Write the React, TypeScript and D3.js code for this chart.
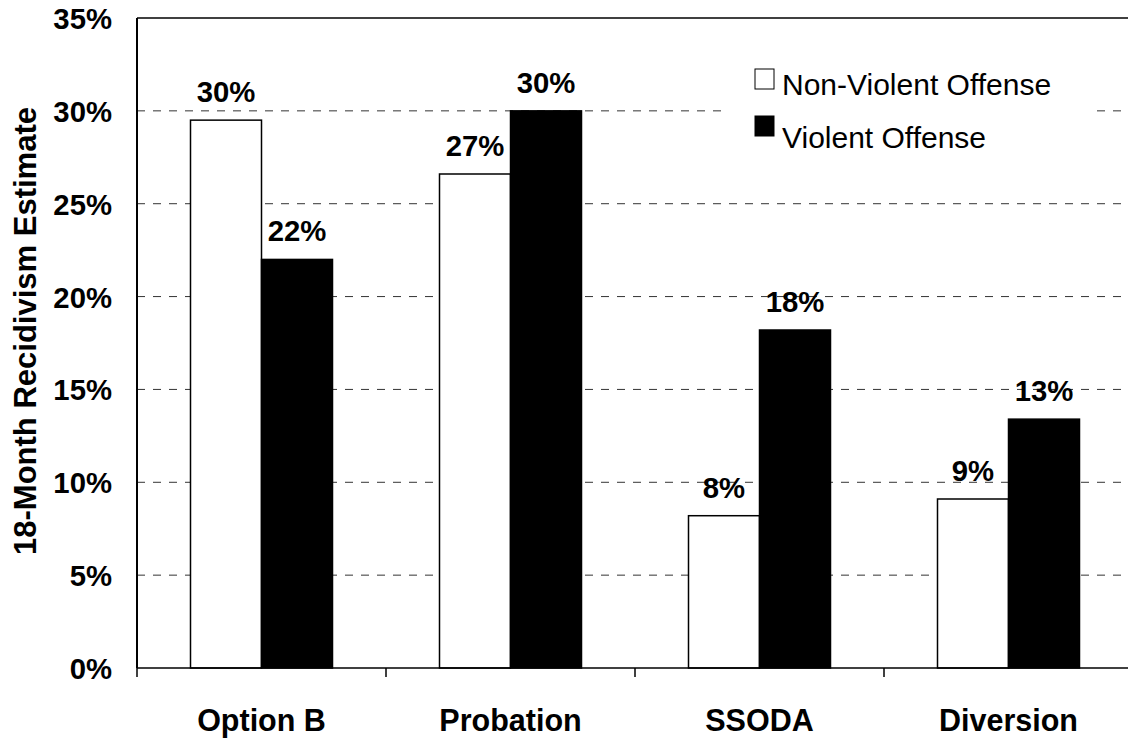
import React from "react";
import * as d3 from "d3";

// Recidivism estimates by disposition and offense type (percent)
const categories = ["Option B", "Probation", "SSODA", "Diversion"];
const seriesNames = ["Non-Violent Offense", "Violent Offense"];
const nonViolent = [29.5, 26.6, 8.2, 9.1];
const violent = [22.0, 30.0, 18.2, 13.4];
const valueLabels = [
  ["30%", "27%", "8%", "9%"],
  ["22%", "30%", "18%", "13%"],
];
const yTicks = [0, 5, 10, 15, 20, 25, 30, 35];
const yTitle = "18-Month Recidivism Estimate";

const W = 1128;
const H = 738;
const plot = { left: 137, top: 18, right: 1133, bottom: 668 };
const FONT = "'Liberation Sans', Arial, Helvetica, sans-serif";
const FS = 29.3;

export default function App() {
  const x = d3
    .scaleBand<string>()
    .domain(categories)
    .range([plot.left, plot.right])
    .paddingInner(0)
    .paddingOuter(0);
  const y = d3.scaleLinear().domain([0, 35]).range([plot.bottom, plot.top]);
  const barW = 71;
  const series = [nonViolent, violent];
  const fills = ["#ffffff", "#000000"];

  return (
    <div style={{ position: "fixed", left: 0, top: 0, background: "#fff" }}>
      <svg width={W} height={H} style={{ display: "block" }} fontFamily={FONT}>
        <rect x={0} y={0} width={W} height={H} fill="#fff" />
        {/* dashed gridlines */}
        {yTicks
          .filter((t) => t > 0 && t < 35)
          .map((t) => (
            <line
              key={t}
              x1={plot.left}
              x2={plot.right}
              y1={y(t)}
              y2={y(t)}
              stroke="#333"
              strokeWidth={1}
              strokeDasharray="8,8"
            />
          ))}
        {/* top frame line */}
        <line x1={plot.left} x2={plot.right} y1={plot.top} y2={plot.top} stroke="#000" strokeWidth={1.5} />
        {/* bars */}
        {series.map((vals, si) =>
          vals.map((v, ci) => {
            const cx = (x(categories[ci]) as number) + x.bandwidth() / 2;
            const bx = cx - barW + si * barW;
            return (
              <rect
                key={`${si}-${ci}`}
                x={bx}
                y={y(v)}
                width={barW}
                height={y(0) - y(v)}
                fill={fills[si]}
                stroke="#000"
                strokeWidth={1.5}
              />
            );
          })
        )}
        {/* value labels */}
        {series.map((vals, si) =>
          vals.map((v, ci) => {
            const cx = (x(categories[ci]) as number) + x.bandwidth() / 2;
            const bx = cx - barW + si * barW + barW / 2;
            return (
              <text
                key={`l-${si}-${ci}`}
                x={bx}
                y={y(v) - 18}
                textAnchor="middle"
                fontSize={FS}
                fontWeight="bold"
                fill="#000"
              >
                {valueLabels[si][ci]}
              </text>
            );
          })
        )}
        {/* axes */}
        <line x1={plot.left} x2={plot.left} y1={plot.top} y2={plot.bottom} stroke="#000" strokeWidth={2} />
        <line x1={plot.left} x2={plot.right} y1={plot.bottom} y2={plot.bottom} stroke="#000" strokeWidth={1.5} />
        {categories.map((c) => (
          <line
            key={`t-${c}`}
            x1={x(c) as number}
            x2={x(c) as number}
            y1={plot.bottom}
            y2={plot.bottom + 9}
            stroke="#000"
            strokeWidth={1.5}
          />
        ))}
        {yTicks.map((t) => (
          <text
            key={`yt-${t}`}
            x={112}
            y={y(t) + 11}
            textAnchor="end"
            fontSize={FS}
            fontWeight="bold"
          >
            {`${t}%`}
          </text>
        ))}
        {categories.map((c) => (
          <text
            key={`xl-${c}`}
            x={(x(c) as number) + x.bandwidth() / 2}
            y={731}
            textAnchor="middle"
            fontSize={30.5}
            fontWeight="bold"
          >
            {c}
          </text>
        ))}
        <text
          transform={`translate(36, 331) rotate(-90)`}
          textAnchor="middle"
          fontSize={31}
          fontWeight="bold"
        >
          {yTitle}
        </text>
        {/* legend */}
        <g>
          <rect x={723} y={60} width={367} height={98} fill="#fff" />
          {seriesNames.map((s, i) => (
            <g key={s}>
              <rect
                x={755}
                y={i === 0 ? 69 : 116}
                width={19}
                height={20}
                fill={fills[i]}
                stroke="#000"
                strokeWidth={1}
              />
              <text x={782} y={i === 0 ? 95 : 148} fontSize={30} fill="#000">
                {s}
              </text>
            </g>
          ))}
        </g>
      </svg>
    </div>
  );
}
